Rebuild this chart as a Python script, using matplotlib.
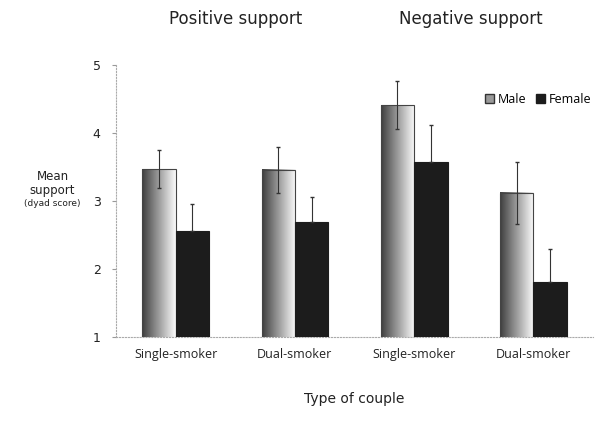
import numpy as np
import matplotlib.pyplot as plt
from matplotlib.patches import Patch

categories = ["Single-smoker", "Dual-smoker", "Single-smoker", "Dual-smoker"]
panels = ["Positive support", "Negative support"]
male = [3.47, 3.46, 4.41, 3.12]
female = [2.56, 2.69, 3.57, 1.81]
male_err = [0.28, 0.34, 0.35, 0.45]
female_err = [0.40, 0.37, 0.55, 0.48]

fig = plt.figure(figsize=(6.04, 4.23), dpi=100)
ax = fig.add_axes([0.192, 0.203, 0.79, 0.643])

x = np.arange(len(categories))
w = 0.28
grad = np.linspace(0.25, 0.98, 64).reshape(1, -1)

bars_m = ax.bar(x - w / 2, male, w, color="none",
                edgecolor="#444444", linewidth=0.8, zorder=3)
for b in bars_m:
    x0 = b.get_x()
    ax.imshow(grad, cmap="gray", vmin=0, vmax=1, aspect="auto",
              extent=[x0, x0 + b.get_width(), 1, b.get_height()],
              zorder=2, interpolation="bilinear")
ax.errorbar(x - w / 2, male, yerr=male_err, fmt="none", ecolor="#333333",
            elinewidth=0.8, capsize=1.5, zorder=4)

ax.bar(x + w / 2, female, w, color="#1c1c1c", edgecolor="#1c1c1c",
       linewidth=0.8, zorder=3)
ax.errorbar(x + w / 2, female, yerr=[[0] * 4, female_err], fmt="none",
            ecolor="#333333", elinewidth=0.8, capsize=1.5, zorder=4)

ax.set_xlim(-0.5, 3.5)
ax.set_ylim(1, 5)
ax.set_yticks([1, 2, 3, 4, 5])
ax.set_xticks(x)
ax.set_xticklabels(categories, fontsize=9, family="Open Sans", color="#222222")
ax.tick_params(axis="y", labelsize=9, length=3, color="#999999", pad=8,
               labelcolor="#222222")
ax.tick_params(axis="x", length=0, pad=8)
for s in ["top", "right"]:
    ax.spines[s].set_visible(False)
for s in ["left", "bottom"]:
    ax.spines[s].set_color("#aaaaaa")
    ax.spines[s].set_linestyle(":")
    ax.spines[s].set_linewidth(0.8)

ax.set_xlabel("Type of couple", fontsize=10, labelpad=22, color="#222222")

fig.text(0.087, 0.567, "Mean\nsupport", ha="center", va="center",
         fontsize=8.5, linespacing=1.1, color="#222222")
fig.text(0.087, 0.518, "(dyad score)", ha="center", va="center", fontsize=6.5,
         color="#222222")

fig.text(0.39, 0.955, panels[0], ha="center", va="center", fontsize=12,
         color="#222222")
fig.text(0.78, 0.955, panels[1], ha="center", va="center", fontsize=12,
         color="#222222")

handles = [Patch(facecolor="#999999", edgecolor="#333333"),
           Patch(facecolor="#1c1c1c", edgecolor="#1c1c1c")]
ax.legend(handles, ["Male", "Female"], loc="upper right",
          bbox_to_anchor=(1.02, 0.94), ncol=2, frameon=False,
          handlelength=0.7, handleheight=0.7, handletextpad=0.3,
          columnspacing=0.8, prop={"family": "Open Sans", "size": 9})

fig.savefig("out.png", dpi=100)
